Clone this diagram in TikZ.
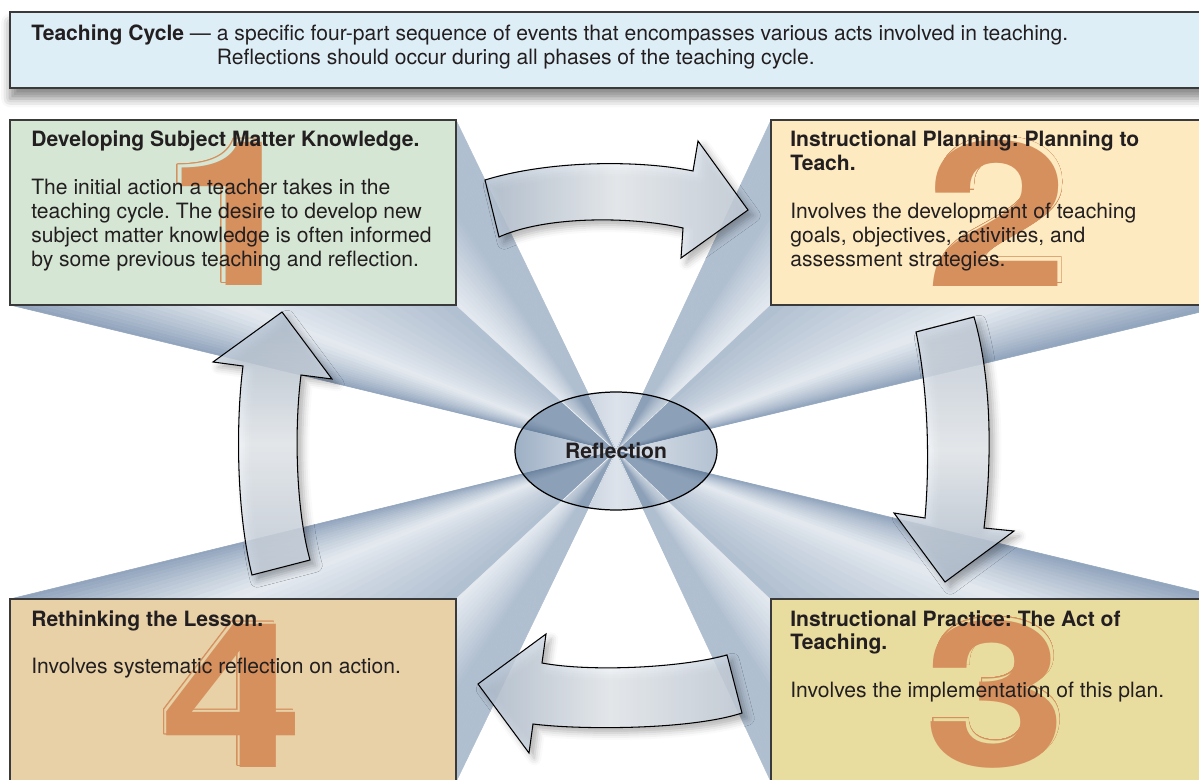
\documentclass[tikz,border=0pt]{standalone}
\usepackage{fontspec}
\setmainfont{TeX Gyre Heros}
\usepackage{contour}
\usetikzlibrary{calc, shadows.blur}

\contourlength{0.3pt}
\frenchspacing

% Left-aligned block whose first baseline is the node's baseline
\newcommand{\stagelines}[1]{\begin{tabular}[t]{@{}l@{}}#1\end{tabular}}

% Fan of thin slices from #1 to the edge #2--#3, shaded #4 -> #5 -> #6
\newcommand{\rayfan}[6]{%
    \foreach \i in {0,...,29} {
        \pgfmathsetmacro{\ta}{\i/30}
        \pgfmathsetmacro{\tb}{(\i+1)/30}
        \pgfmathtruncatemacro{\wa}{200*(\i+0.5)/30}
        \pgfmathtruncatemacro{\wb}{200*(\i+0.5)/30-100}
        \ifnum\i<15 \colorlet{sliceColour}{#5!\wa!#4}\else\colorlet{sliceColour}{#6!\wb!#5}\fi
        \filldraw[sliceColour, line width=0.3pt, line join=round]
            (#1) -- ($(#2)!\ta!(#3)$) -- ($(#2)!\tb!(#3)$) -- cycle;
    }}

% Big stage numeral with an outlined copy behind it
\newcommand{\stagenumber}[5]{%
    \node[numeral, text=#4] (#1Shade) at ($#2+#3$) {\scalebox{1.28}[1]{\contour[24]{numColour}{#5}}};
    \node[numeral] (#1) at #2 {\scalebox{1.28}[1]{#5}};}

\begin{document}
\begin{tikzpicture}[x=0.02cm, y=-0.02cm,
    font=\fontsize{12}{13.65}\selectfont,
    stagebox/.style={draw=borderColour, line width=0.85pt},
    stagetext/.style={anchor=base west, inner sep=0pt, text=inkColour},
    numeral/.style={anchor=base, inner sep=0pt, text=numColour, font=\fontsize{115}{115}\selectfont\bfseries},
    cyclearrow/.style={draw=black, line width=0.6pt, fill opacity=0.82,
        blur shadow={shadow xshift=3pt, shadow yshift=-3pt, shadow blur radius=4pt, shadow opacity=30}}]
    % Define colours
    \definecolor{borderColour}{HTML}{3A3A3A}
    \definecolor{inkColour}{HTML}{231F20}
    \definecolor{titleFill}{HTML}{DEEEF7}
    \definecolor{devFill}{HTML}{D5E7D4}
    \definecolor{planFill}{HTML}{FDEAC0}
    \definecolor{pracFill}{HTML}{E9DC9F}
    \definecolor{rethFill}{HTML}{E8D1A7}
    \definecolor{numColour}{HTML}{D6905E}
    \definecolor{rayDark}{HTML}{8FA3BC}
    \definecolor{rayMid}{HTML}{B0BFD0}
    \definecolor{rayLight}{HTML}{E5EAF0}
    \definecolor{innerDark}{HTML}{6C84A0}
    \definecolor{innerMid}{HTML}{8CA0B8}
    \definecolor{innerLight}{HTML}{C6D0DC}
    \definecolor{ellLeft}{HTML}{9EB0C5}
    \definecolor{ellMid}{HTML}{DDE3EB}
    \definecolor{ellRight}{HTML}{B3C1D1}
    \definecolor{arrowDark}{HTML}{B2C0D1}
    \definecolor{arrowMid}{HTML}{C8D2DE}
    \definecolor{arrowLight}{HTML}{EEF2F6}

    \useasboundingbox (0,0) rectangle (1199,780);
    \clip (0,0) rectangle (1199,780);

    % Hub and box corners
    \coordinate (hub) at (616,451);
    \coordinate (devTR) at (456,120);
    \coordinate (devBL) at (10,305);
    \coordinate (devBR) at (456,305);
    \coordinate (planTL) at (771,120);
    \coordinate (planBL) at (771,305);
    \coordinate (planBR) at (1230,305);
    \coordinate (pracTL) at (771,599);
    \coordinate (pracTR) at (1230,599);
    \coordinate (pracBL) at (771,782);
    \coordinate (rethTL) at (10,599);
    \coordinate (rethTR) at (456,599);
    \coordinate (rethBR) at (456,782);

    % Light rays from the hub to every box
    \rayfan{hub}{devBL}{devBR}{rayDark}{rayLight}{rayMid}
    \rayfan{hub}{devBR}{devTR}{rayLight}{rayMid}{rayMid}
    \rayfan{hub}{planTL}{planBL}{rayMid}{rayMid}{rayLight}
    \rayfan{hub}{planBL}{planBR}{rayMid}{rayLight}{rayDark}
    \rayfan{hub}{pracBL}{pracTL}{rayMid}{rayMid}{rayLight}
    \rayfan{hub}{pracTL}{pracTR}{rayMid}{rayLight}{rayDark}
    \rayfan{hub}{rethTL}{rethTR}{rayDark}{rayLight}{rayMid}
    \rayfan{hub}{rethTR}{rethBR}{rayLight}{rayMid}{rayMid}

    % Title bar
    \draw[stagebox, fill=titleFill,
        blur shadow={shadow xshift=0pt, shadow yshift=-6pt, shadow blur radius=5pt, shadow opacity=45}]
        (10,12) rectangle (1230,88);
    \node[stagetext] (titleText) at (31,41) {\textbf{Teaching Cycle} — \stagelines{a specific four-part sequence of events that encompasses various acts involved in teaching.\\
        Reflections should occur during all phases of the teaching cycle.}};

    % Stage boxes
    \draw[stagebox, fill=devFill] (10,120) rectangle (devBR);
    \draw[stagebox, fill=planFill] (planTL) rectangle (planBR);
    \draw[stagebox, fill=pracFill] (pracTL) rectangle (1230,782);
    \draw[stagebox, fill=rethFill] (rethTL) rectangle (rethBR);

    % Stage numerals
    \stagenumber{numOne}{(236,286)}{(-4,-3.5)}{devFill}{1}
    \stagenumber{numTwo}{(997,287)}{(4,-4)}{planFill}{2}
    \stagenumber{numThree}{(995,766)}{(3,-3)}{pracFill}{3}
    \stagenumber{numFour}{(232,767)}{(-2,-1.5)}{rethFill}{4}

    % Stage texts
    \node[stagetext] (devText) at (31,147) {\stagelines{\textbf{Developing Subject Matter Knowledge.}\\[13.65pt]
        The initial action a teacher takes in the\\
        teaching cycle. The desire to develop new\\
        subject matter knowledge is often informed\\
        by some previous teaching and reflection.}};
    \node[stagetext] (planText) at (790,147) {\stagelines{\textbf{Instructional Planning: Planning to}\\
        \textbf{Teach.}\\[13.65pt]
        Involves the development of teaching\\
        goals, objectives, activities, and\\
        assessment strategies.}};
    \node[stagetext] (pracText) at (790,626) {\stagelines{\textbf{Instructional Practice: The Act of}\\
        \textbf{Teaching.}\\[13.65pt]
        Involves the implementation of this plan.}};
    \node[stagetext] (rethText) at (31,626) {\stagelines{\textbf{Rethinking the Lesson.}\\[13.65pt]
        Involves systematic reflection on action.}};

    % Cycle arrows
    \draw[cyclearrow, left color=arrowDark, right color=arrowMid, middle color=arrowLight]
        (485,180) .. controls (550,160) and (640,160) .. (693,171) -- (698,141) -- (748,210)
        -- (681,258) -- (683,228) .. controls (630,216) and (545,216) .. (499,237) -- cycle;
    \draw[cyclearrow, top color=arrowMid, bottom color=arrowDark, middle color=arrowLight]
        (916,332) -- (974,317) .. controls (992,380) and (992,460) .. (984,528) -- (1014,531)
        -- (945,582) -- (894,513) -- (925,518) .. controls (930,460) and (928,390) .. (916,332) -- cycle;
    \draw[cyclearrow, left color=arrowDark, right color=arrowMid, middle color=arrowLight]
        (742,713) .. controls (690,730) and (580,730) .. (533,724) -- (529,753) -- (478,684)
        -- (546,634) -- (542,663) .. controls (590,672) and (680,668) .. (727,655) -- cycle;
    \draw[cyclearrow, top color=arrowDark, bottom color=arrowMid, middle color=arrowLight]
        (252,575) .. controls (236,510) and (236,420) .. (243,366) -- (213,362) -- (282,312)
        -- (332,379) -- (301,375) .. controls (294,430) and (296,510) .. (310,560) -- cycle;

    % Reflection hub
    \path[left color=ellLeft, right color=ellRight, middle color=ellMid]
        (hub) ellipse [x radius=2.02cm, y radius=1.18cm];
    \begin{scope}
        \clip (hub) ellipse [x radius=2.02cm, y radius=1.18cm];
        \rayfan{hub}{devBL}{devBR}{innerDark}{innerMid}{innerMid}
        \rayfan{hub}{devBR}{devTR}{innerLight}{innerMid}{innerMid}
        \rayfan{hub}{planTL}{planBL}{innerMid}{innerMid}{innerLight}
        \rayfan{hub}{planBL}{planBR}{innerMid}{innerMid}{innerDark}
        \rayfan{hub}{pracBL}{pracTL}{innerMid}{innerMid}{innerLight}
        \rayfan{hub}{pracTL}{pracTR}{innerMid}{innerMid}{innerDark}
        \rayfan{hub}{rethTL}{rethTR}{innerDark}{innerMid}{innerMid}
        \rayfan{hub}{rethTR}{rethBR}{innerLight}{innerMid}{innerMid}
        \foreach \p in {devTR, devBR, planTL, planBL, pracTL, pracBL, rethTR, rethBR}
            \draw[white, line width=0.35pt, opacity=0.8] (hub) -- (\p);
    \end{scope}
    \draw[line width=0.7pt] (hub) ellipse [x radius=2.02cm, y radius=1.18cm];
    \node[font=\fontsize{12}{13.65}\selectfont\bfseries, text=inkColour] (reflection) at (hub) {Reflection};
\end{tikzpicture}
\end{document}
